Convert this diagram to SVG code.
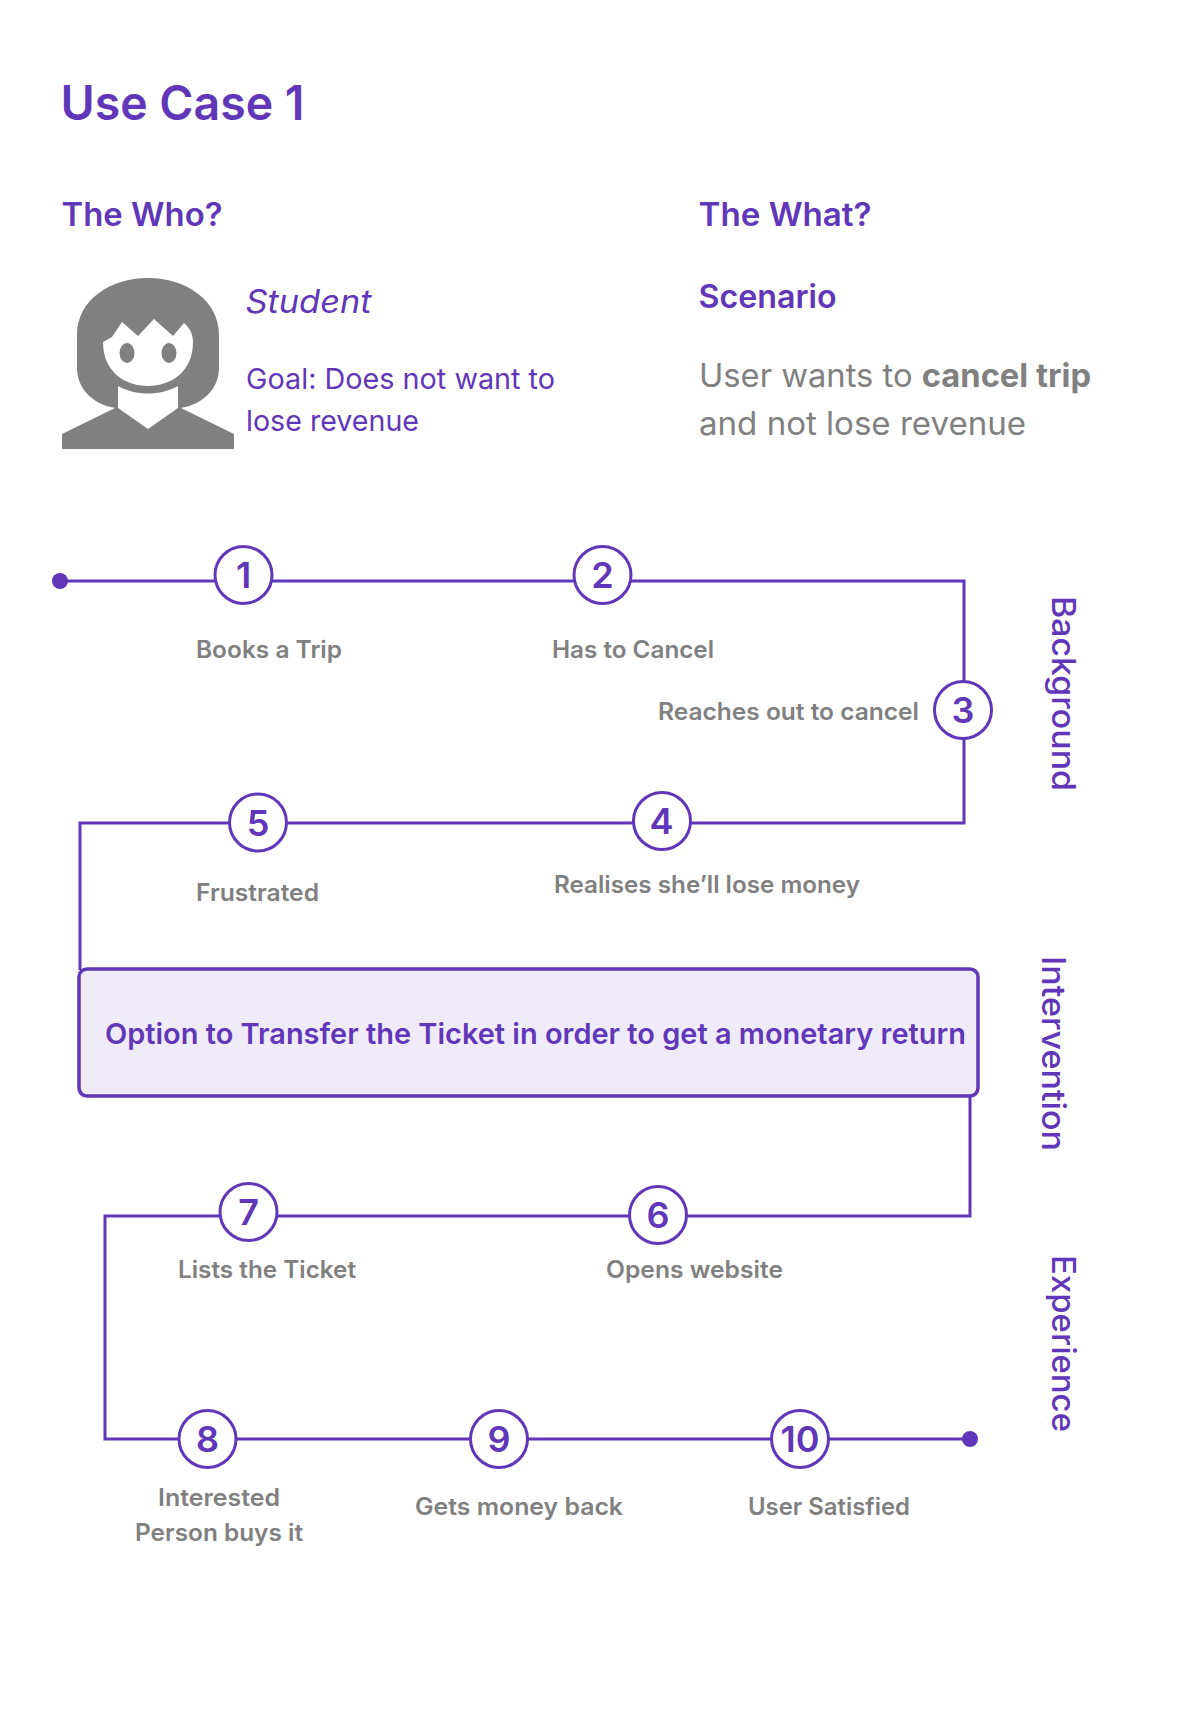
<svg xmlns="http://www.w3.org/2000/svg" width="1191" height="1729" viewBox="0 0 1191 1729">
<style>
text{font-family:Inter,"Open Sans","Liberation Sans",sans-serif}
.h{fill:#5f37b8;font-weight:600}
.p{fill:#5f37b8}
.l{fill:#808080;font-size:24px;font-weight:600}
.c{fill:none;stroke:#5f37b8;stroke-width:3}
.n circle{fill:#fff;stroke:#5f37b8;stroke-width:3}
.n text{fill:#5f37b8;font-size:36px;font-weight:600;text-anchor:middle}
.s{fill:#5f37b8;font-size:32px;font-weight:500}
</style>
<rect width="1191" height="1729" fill="#fff"/>
<text id="title" class="h" x="60.5" y="119.5" font-size="48" textLength="244" lengthAdjust="spacingAndGlyphs">Use Case 1</text>
<text class="h" x="61.5" y="225.5" font-size="32" textLength="161" lengthAdjust="spacingAndGlyphs">The Who?</text>
<text class="h" x="698.5" y="225.5" font-size="32" textLength="173" lengthAdjust="spacingAndGlyphs">The What?</text>
<text class="h" x="698.5" y="307.5" font-size="32" textLength="138" lengthAdjust="spacingAndGlyphs">Scenario</text>
<g id="person" fill="#808080">
<path fill-rule="evenodd" d="M77 335C77 300 110 278 148 278C186 278 219 300 219 335V368C219 388 204 404 181 408L234 434V449H62V434L115 408C92 404 77 388 77 368ZM103 342C103 372 125 386 148 386C171 386 193 372 193 342C193 336 191 329 184 323L173 336L154 319L138 336L122 322L112 337Z"/>
<ellipse cx="127" cy="353" rx="7.5" ry="10"/>
<ellipse cx="169" cy="353" rx="7.5" ry="10"/>
<path fill="#fff" d="M118 386C136 396 160 396 178 386V408L148 429L118 408Z"/>
</g>
<text class="p" x="245.5" y="313" font-size="32" font-style="italic" textLength="126" lengthAdjust="spacingAndGlyphs">Student</text>
<text class="p" x="246" y="388.5" font-size="29" textLength="309" lengthAdjust="spacingAndGlyphs">Goal: Does not want to</text>
<text class="p" x="246" y="430.5" font-size="29" textLength="173" lengthAdjust="spacingAndGlyphs">lose revenue</text>
<text x="699" y="387" font-size="32" fill="#808080" textLength="392" lengthAdjust="spacingAndGlyphs">User wants to <tspan font-weight="700">cancel trip</tspan></text>
<text x="699" y="435" font-size="32" fill="#808080" textLength="327" lengthAdjust="spacingAndGlyphs">and not lose revenue</text>
<g id="connectors">
<path class="c" d="M60 581H964V823H80V970"/>
<path class="c" d="M970 1096V1216H105V1439H970"/>
<circle cx="60" cy="581" r="8" fill="#5f37b8"/>
<circle cx="970" cy="1439" r="8" fill="#5f37b8"/>
</g>
<g id="intervention">
<rect x="79" y="969" width="899" height="127" rx="8" fill="#f0ebf8" stroke="#5f37b8" stroke-width="3.5"/>
<text class="h" x="105" y="1043.5" font-size="29" textLength="861" lengthAdjust="spacingAndGlyphs">Option to Transfer the Ticket in order to get a monetary return</text>
</g>
<g id="n1" class="n"><circle cx="243.5" cy="575" r="28.5"/><text x="243.5" y="588">1</text></g>
<g id="n2" class="n"><circle cx="602.5" cy="575" r="28.5"/><text x="602.5" y="588">2</text></g>
<g id="n3" class="n"><circle cx="963" cy="710" r="28.5"/><text x="963" y="723">3</text></g>
<g id="n4" class="n"><circle cx="662" cy="821" r="28.5"/><text x="661.5" y="834">4</text></g>
<g id="n5" class="n"><circle cx="258" cy="822.5" r="28.5"/><text x="258" y="835.5">5</text></g>
<g id="n6" class="n"><circle cx="658" cy="1215" r="28.5"/><text x="658" y="1228">6</text></g>
<g id="n7" class="n"><circle cx="248.5" cy="1212" r="28.5"/><text x="248.5" y="1225">7</text></g>
<g id="n8" class="n"><circle cx="207.5" cy="1439" r="28.5"/><text x="207.5" y="1452">8</text></g>
<g id="n9" class="n"><circle cx="499" cy="1439" r="28.5"/><text x="499" y="1452">9</text></g>
<g id="n10" class="n"><circle cx="800" cy="1439" r="28.5"/><text x="800" y="1452">10</text></g>
<g id="labels">
<text class="l" x="196" y="658" textLength="146" lengthAdjust="spacingAndGlyphs">Books a Trip</text>
<text class="l" x="552" y="658" textLength="162" lengthAdjust="spacingAndGlyphs">Has to Cancel</text>
<text class="l" x="658" y="720" textLength="261" lengthAdjust="spacingAndGlyphs">Reaches out to cancel</text>
<text class="l" x="554" y="893" textLength="306" lengthAdjust="spacingAndGlyphs">Realises she’ll lose money</text>
<text class="l" x="196" y="901" textLength="123" lengthAdjust="spacingAndGlyphs">Frustrated</text>
<text class="l" x="606" y="1278" textLength="177" lengthAdjust="spacingAndGlyphs">Opens website</text>
<text class="l" x="178" y="1278" textLength="178" lengthAdjust="spacingAndGlyphs">Lists the Ticket</text>
<text class="l" x="158" y="1505.5" textLength="122" lengthAdjust="spacingAndGlyphs">Interested</text>
<text class="l" x="135" y="1541" textLength="168" lengthAdjust="spacingAndGlyphs">Person buys it</text>
<text class="l" x="415" y="1515" textLength="208" lengthAdjust="spacingAndGlyphs">Gets money back</text>
<text class="l" x="748" y="1515" textLength="162" lengthAdjust="spacingAndGlyphs">User Satisfied</text>
</g>
<g id="sections">
<text class="s" transform="translate(1052 596) rotate(90)" textLength="195" lengthAdjust="spacingAndGlyphs">Background</text>
<text class="s" transform="translate(1042 956) rotate(90)" textLength="195" lengthAdjust="spacingAndGlyphs">Intervention</text>
<text class="s" transform="translate(1052 1255) rotate(90)" textLength="177" lengthAdjust="spacingAndGlyphs">Experience</text>
</g>
</svg>
